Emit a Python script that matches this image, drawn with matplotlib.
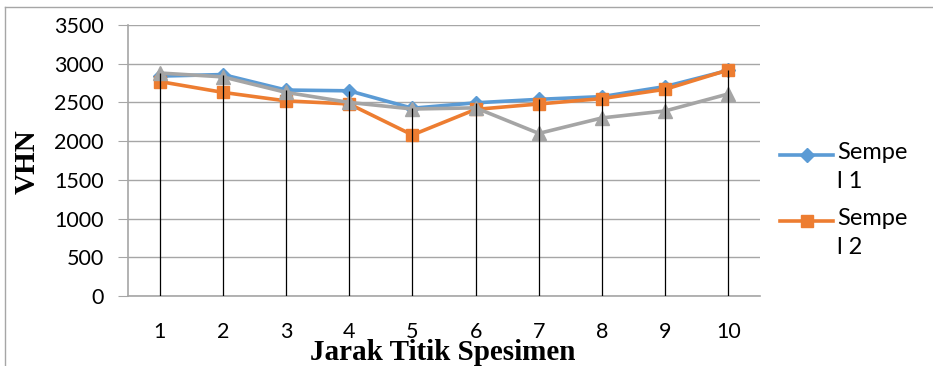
import matplotlib.pyplot as plt
import numpy as np
from matplotlib.lines import Line2D

# Nilai kekerasan per titik
titik = [1, 2, 3, 4, 5, 6, 7, 8, 9, 10]
sempel_1 = [2840, 2860, 2660, 2650, 2425, 2495, 2540, 2575, 2705, 2915]
sempel_2 = [2770, 2630, 2520, 2480, 2080, 2410, 2480, 2550, 2670, 2920]
sempel_3 = [2880, 2830, 2630, 2500, 2415, 2430, 2100, 2300, 2390, 2610]
y_ticks = [0, 500, 1000, 1500, 2000, 2500, 3000, 3500]

biru = '#5B9BD5'
oranye = '#ED7D31'
abu = '#A5A5A5'
garis = '#A6A6A6'

fig = plt.figure(figsize=(9.33, 3.66), dpi=100)
W, H = 933, 366
ax = fig.add_axes([128 / W, 1 - 296 / H, 632 / W, 271 / H])

ax.plot(titik, sempel_1, color=biru, lw=2.6, marker='D', ms=7, zorder=3)
ax.plot(titik, sempel_2, color=oranye, lw=2.6, marker='s', ms=9, zorder=4)
ax.plot(titik, sempel_3, color=abu, lw=2.6, marker='^', ms=9.5, zorder=5)

# Garis turun dari titik tertinggi ke sumbu
puncak = np.max([sempel_1, sempel_2, sempel_3], axis=0)
ax.vlines(titik, 0, puncak, color='black', lw=0.9, zorder=6)

ax.set_xlim(0.5, 10.5)
ax.set_ylim(0, 3500)
ax.set_xticks(titik)
ax.set_yticks(y_ticks)
ax.grid(axis='y', color=garis, lw=1)
ax.set_axisbelow(True)
for s in ['top', 'right']:
    ax.spines[s].set_visible(False)
ax.spines['left'].set_color(garis)
ax.spines['bottom'].set_color(garis)
ax.spines['left'].set_linewidth(1.2)
ax.spines['bottom'].set_linewidth(1.2)
ax.tick_params(axis='y', length=7, color=garis, pad=10.5)
ax.tick_params(axis='x', length=0, pad=19)
for lab in ax.get_xticklabels() + ax.get_yticklabels():
    lab.set_fontfamily('Lato')
    lab.set_fontsize(15.5)

# Judul sumbu
fig.text(443 / W, 1 - 353 / H, 'Jarak Titik Spesimen', ha='center', va='center',
         family='Liberation Serif', weight='bold', fontsize=21)
fig.text(27 / W, 1 - 162 / H, 'VHN', ha='center', va='center', rotation=90,
         family='Liberation Serif', weight='bold', fontsize=21)

# Legenda
entri = [(biru, 'D', 7, 'Sempe\nl 1', 155), (oranye, 's', 9, 'Sempe\nl 2', 221)]
for warna, mk, ukuran, teks, yp in entri:
    fig.add_artist(Line2D([780 / W, 833 / W], [1 - yp / H] * 2, color=warna, lw=2.6,
                          transform=fig.transFigure))
    fig.add_artist(Line2D([806.5 / W], [1 - yp / H], color=warna, marker=mk, ms=ukuran,
                          transform=fig.transFigure))
    fig.text(837 / W, 1 - (yp - 13) / H, teks, ha='left', va='top', family='Lato',
             fontsize=17, linespacing=1.45)

# Bingkai grafik
fig.add_artist(Line2D([5 / W, 1], [1 - 7 / H] * 2, color=garis, lw=1,
                      transform=fig.transFigure))
fig.add_artist(Line2D([5 / W] * 2, [0, 1 - 7 / H], color=garis, lw=1,
                      transform=fig.transFigure))

fig.savefig('out.png', dpi=100)
